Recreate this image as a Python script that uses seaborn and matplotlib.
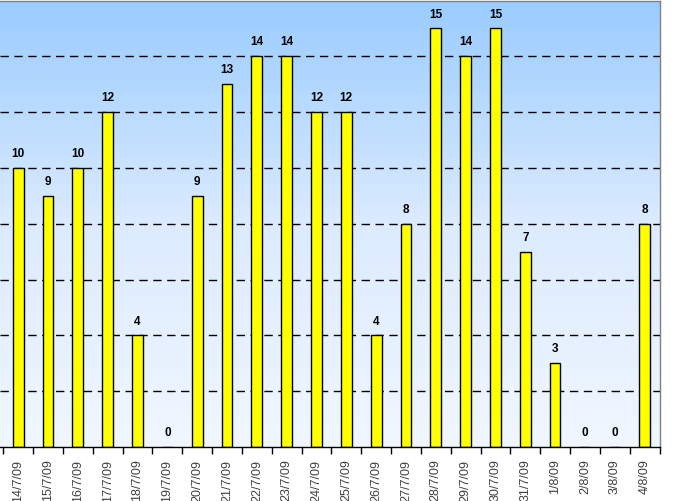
import numpy as np
import pandas as pd
import matplotlib
matplotlib.use("Agg")
import matplotlib.pyplot as plt
import seaborn as sns
from matplotlib.colors import LinearSegmentedColormap

dates = ["14/7/09", "15/7/09", "16/7/09", "17/7/09", "18/7/09", "19/7/09", "20/7/09",
         "21/7/09", "22/7/09", "23/7/09", "24/7/09", "25/7/09", "26/7/09", "27/7/09",
         "28/7/09", "29/7/09", "30/7/09", "31/7/09", "1/8/09", "2/8/09", "3/8/09", "4/8/09"]
values = [10, 9, 10, 12, 4, 0, 9, 13, 14, 14, 12, 12, 4, 8, 15, 14, 15, 7, 3, 0, 0, 8]

df = pd.DataFrame({"date": dates, "value": values})

sns.set_style("white")
W, H = 673, 501
fig = plt.figure(figsize=(W / 100, H / 100), dpi=100)
left_px, right_px, top_px, bot_px = 0, 659.5, 0.5, 447
ax = fig.add_axes([left_px / W, 1 - bot_px / H, (right_px - left_px) / W, (bot_px - top_px) / H])

# gradient background
cmap = LinearSegmentedColormap.from_list("bg", ["#F0F7FF", "#DCEBFF", "#99CCFF"])
grad = np.linspace(0, 1, 256).reshape(-1, 1)
xmin = -0.5 - 3.3 / 29.9
ax.imshow(grad, aspect="auto", cmap=cmap, origin="lower",
          extent=[xmin, 21.5, 0, 16], zorder=0)

for v in range(2, 16, 2):
    ax.axhline(v, color="black", lw=1, ls=(0, (6, 4)), zorder=1)

sns.barplot(data=df, x="date", y="value", ax=ax, color="#FFFF00", width=0.36,
            edgecolor="black", linewidth=1, saturation=1, zorder=2)

for i, v in enumerate(values):
    ax.text(i, v + 0.28, str(v), ha="center", va="bottom", fontsize=8.5,
            fontweight="bold", color="black", family="Liberation Sans", zorder=3)

ax.set_xlim(xmin, 21.5)
ax.set_ylim(0, 16)
ax.set_xlabel("")
ax.set_ylabel("")
ax.set_yticks([])
ax.set_xticks(np.arange(-0.5, 22, 1))
ax.set_xticklabels([])
ax.set_xticks(np.arange(0, 22), minor=True)
ax.set_xticklabels(dates, minor=True, rotation=90, fontsize=9,
                   color="#404040", family="Liberation Sans")
ax.tick_params(axis="x", which="major", length=5, width=1, color="black", bottom=True, direction="out")
ax.tick_params(axis="x", which="minor", length=0, pad=9)
for s in ["top", "right"]:
    ax.spines[s].set_color("#808080")
    ax.spines[s].set_linewidth(1)
ax.spines["left"].set_visible(False)
ax.spines["bottom"].set_color("black")
ax.spines["bottom"].set_linewidth(1)
ax.spines["bottom"].set_zorder(4)

fig.savefig("out.png", dpi=100, facecolor="white")
